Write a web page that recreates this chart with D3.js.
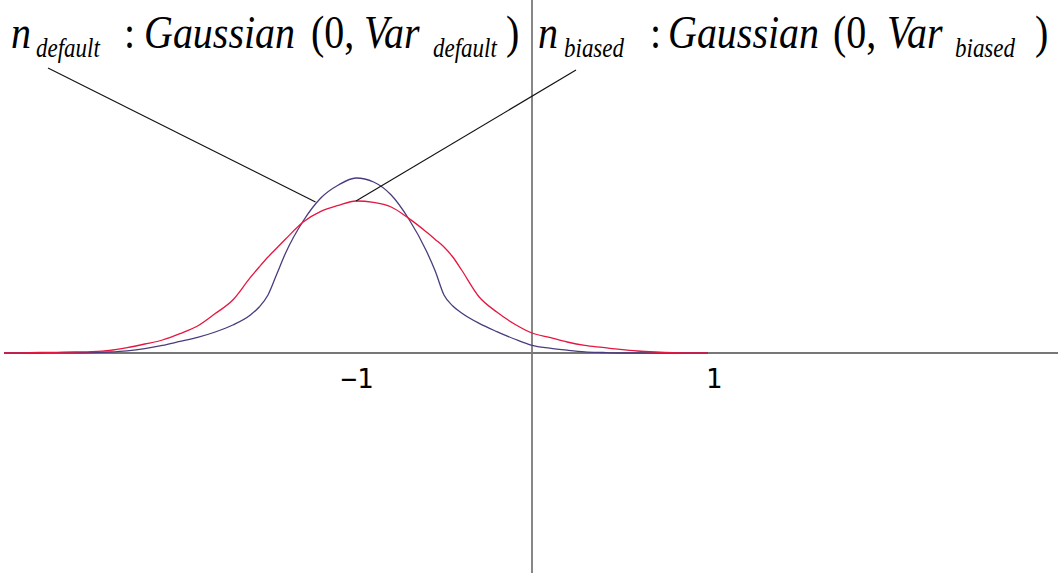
<!DOCTYPE html>
<html>
<head>
<meta charset="utf-8">
<script src="https://cdn.jsdelivr.net/npm/d3@7"></script>
<style>
  html, body { margin: 0; padding: 0; background: #fff; }
  svg { display: block; }
</style>
</head>
<body>
<svg id="chart" width="1062" height="576"></svg>
<script>
// Sample positions along the horizontal axis
const xValues = [-3.0, -2.9, -2.8, -2.7, -2.6, -2.5, -2.4, -2.3, -2.2, -2.1,
                 -2.0, -1.9, -1.8, -1.7, -1.6, -1.55, -1.5, -1.45, -1.4, -1.3, -1.2, -1.1,
                 -1.0, -0.9, -0.8, -0.7, -0.6, -0.55, -0.5, -0.45, -0.4, -0.3, -0.2, -0.1,
                  0.0, 0.1, 0.2, 0.3, 0.4, 0.5, 0.6, 0.7, 0.8, 0.9, 1.0];

// Density of the default noise (narrower curve)
const defaultDensity = [0, 0, 0, 0.0005, 0.001, 0.002, 0.005, 0.011, 0.022, 0.038,
                        0.058, 0.078, 0.105, 0.14, 0.19, 0.23, 0.29, 0.395, 0.5, 0.66, 0.775, 0.84,
                        0.875, 0.855, 0.79, 0.67, 0.51, 0.41, 0.29, 0.235, 0.2, 0.148, 0.107, 0.07,
                        0.038, 0.024, 0.014, 0.006, 0.0025, 0, 0, 0, 0, 0, 0];

// Density of the biased noise (wider curve)
const biasedDensity = [0, 0.001, 0.0025, 0.0035, 0.005, 0.007, 0.013, 0.027, 0.045, 0.065,
                       0.097, 0.135, 0.197, 0.265, 0.378, 0.43, 0.48, 0.525, 0.57, 0.655, 0.708, 0.738,
                       0.76, 0.753, 0.73, 0.673, 0.605, 0.568, 0.53, 0.48, 0.415, 0.28, 0.205, 0.145,
                       0.1, 0.078, 0.055, 0.038, 0.028, 0.018, 0.01, 0.005, 0.0015, 0, 0];

const tickValues = [-1, 1];
const tickLabels = ["\u22121", "1"];

const serifFont = "'Liberation Serif', 'Times New Roman', Times, serif";
const monoFont = "'DejaVu Sans Mono', 'Liberation Mono', monospace";

const svg = d3.select("#chart");

const x = d3.scaleLinear().domain([-3, 3]).range([4, 1060]);
const y = d3.scaleLinear().domain([-1.1, 1.765]).range([573, 0]);

// Axes through the origin
svg.append("line")
  .attr("x1", x(-3)).attr("x2", x(3) - 2)
  .attr("y1", y(0)).attr("y2", y(0))
  .attr("stroke", "#4a4a4a").attr("stroke-width", 1.6);

svg.append("line")
  .attr("x1", x(0)).attr("x2", x(0))
  .attr("y1", y(1.765)).attr("y2", y(-1.1))
  .attr("stroke", "#7a7a7a").attr("stroke-width", 1.8);

// Tick labels
svg.selectAll("text.tick")
  .data(tickValues)
  .join("text")
  .attr("class", "tick")
  .style("font-family", monoFont)
  .attr("x", (d, i) => x(d) + (i === 0 ? 1 : 6))
  .attr("y", y(0) + 35)
  .attr("text-anchor", "middle")
  .attr("font-size", 27)
  .attr("fill", "#000")
  .text((d, i) => tickLabels[i]);

// Curves
const line = d3.line().curve(d3.curveMonotoneX);

const series = [
  { values: defaultDensity, color: "#4b3b7e" },
  { values: biasedDensity, color: "#e5163f" }
];

svg.selectAll("path.curve")
  .data(series)
  .join("path")
  .attr("class", "curve")
  .attr("fill", "none")
  .attr("stroke", d => d.color)
  .attr("stroke-width", 1.3)
  .attr("d", d => line(xValues.map((v, i) => [x(v), y(d.values[i])])));

// Leader lines from the captions to the curves
const leaders = [
  { from: [-2.75, 1.425], to: [-1.23, defaultDensity[xValues.indexOf(-1.2)] - 0.02] },
  { from: [0.25, 1.415], to: [-1.0, biasedDensity[xValues.indexOf(-1.0)]] }
];
svg.selectAll("line.leader")
  .data(leaders)
  .join("line")
  .attr("class", "leader")
  .attr("x1", d => x(d.from[0])).attr("y1", d => y(d.from[1]))
  .attr("x2", d => x(d.to[0])).attr("y2", d => y(d.to[1]))
  .attr("stroke", "#111").attr("stroke-width", 1.1);

// Captions: pieces of each formula with their style and position
const captionDefault = [
  { t: "n", x: 11, sub: false, it: true },
  { t: "default", x: 36, sub: true, it: true },
  { t: ":", x: 124, sub: false, it: false },
  { t: "Gaussian", x: 144, sub: false, it: true },
  { t: "(0,", x: 311, sub: false, it: false },
  { t: "Var", x: 364, sub: false, it: true },
  { t: "default", x: 433, sub: true, it: true },
  { t: ")", x: 506, sub: false, it: false }
];
const captionBiased = [
  { t: "n", x: 538, sub: false, it: true },
  { t: "biased", x: 564, sub: true, it: true },
  { t: ":", x: 650, sub: false, it: false },
  { t: "Gaussian", x: 668, sub: false, it: true },
  { t: "(0,", x: 833, sub: false, it: false },
  { t: "Var", x: 887, sub: false, it: true },
  { t: "biased", x: 955, sub: true, it: true },
  { t: ")", x: 1035, sub: false, it: false }
];

function drawCaption(pieces) {
  const g = svg.append("g");
  g.selectAll("text")
    .data(pieces)
    .join("text")
    .style("font-family", serifFont)
    .attr("fill", "#000")
    .attr("transform", d => `translate(${d.x},${d.sub ? 57 : 48}) scale(1,1.18)`)
    .attr("font-size", d => d.sub ? 23 : 40)
    .attr("font-style", d => d.it ? "italic" : "normal")
    .text(d => d.t);
}
drawCaption(captionDefault);
drawCaption(captionBiased);
</script>
</body>
</html>
